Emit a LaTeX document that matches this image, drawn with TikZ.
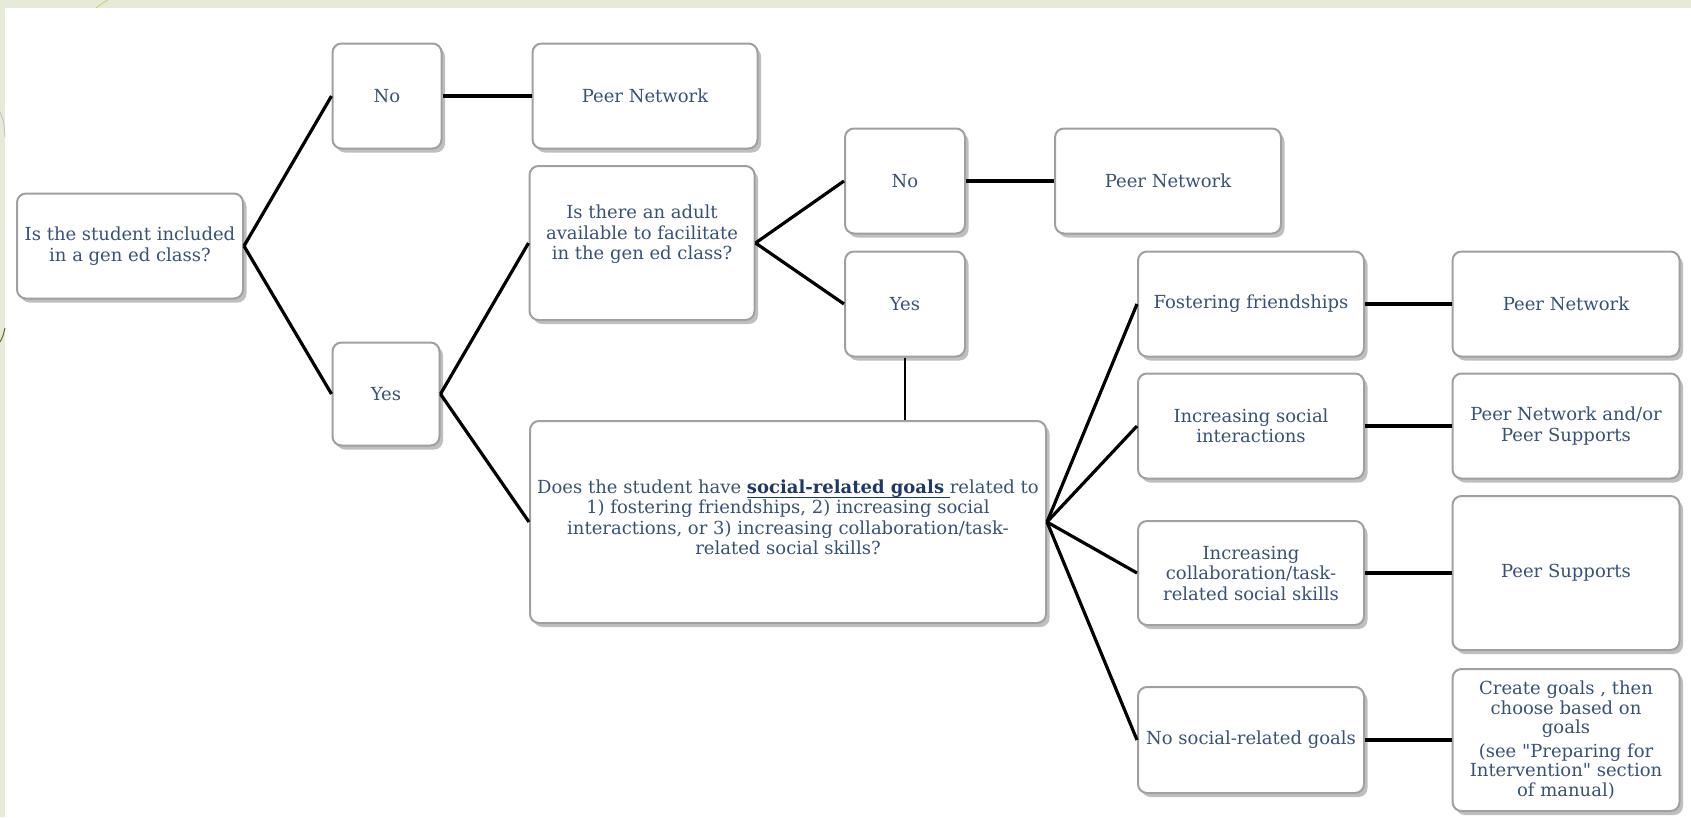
\documentclass[tikz,border=0pt]{standalone}
\usepackage{fontspec}
\setmainfont{DejaVu Serif}
\usetikzlibrary{shadows}

\definecolor{slideback}{RGB}{229,235,215}
\definecolor{cardtext}{RGB}{56,82,118}
\definecolor{cardedge}{RGB}{160,160,160}
\definecolor{goalblue}{RGB}{30,56,104}

\begin{document}
\begin{tikzpicture}[x=1pt,y=-1pt,
        card/.style={draw=cardedge, line width=2pt, fill=white,
            rounded corners=9pt,
            drop shadow={shadow xshift=3.5pt, shadow yshift=-4pt,
                fill=black!45, opacity=.55},
            text=cardtext, align=center, inner sep=2pt,
            font=\fontsize{18}{20.5}\selectfont},
        link/.style={line width=3.2pt, black}
    ]
    \useasboundingbox (0,0) rectangle (1691,817);
    % slide background
    \fill[slideback] (0,0) rectangle (1691,817);
    \fill[white] (5,8) rectangle (1691,817);
    \draw[olive!45, line width=.8pt] (96,8) .. controls (101,4) .. (108,0);
    \draw[black!25, line width=.8pt] (0,112) .. controls (4,122) .. (5,137);
    \draw[olive!70!black, line width=1pt] (0,342) .. controls (3,336) .. (5,328);

    % first question
    \node[card, minimum width=226pt, minimum height=105pt] (incl) at (130,246)
        {Is the student included\\in a gen ed class?};
    \node[card, minimum width=109pt, minimum height=105pt] (no1) at (387,96) {No};
    \node[card, minimum width=225pt, minimum height=105pt] (pn1) at (645,96) {Peer Network};
    \node[card, minimum width=107pt, minimum height=103pt] (yes1) at (386,394) {Yes};

    % adult available?
    \node[card, minimum width=225pt, minimum height=154pt, text depth=21pt] (adult) at (642,243)
        {Is there an adult\\available to facilitate\\in the gen ed class?};
    \node[card, minimum width=120pt, minimum height=105pt] (no2) at (905,181) {No};
    \node[card, minimum width=226pt, minimum height=105pt] (pn2) at (1168,181) {Peer Network};
    \node[card, minimum width=120pt, minimum height=105pt] (yes2) at (905,304) {Yes};

    % social goals
    \node[card, minimum width=516pt, minimum height=202pt, text depth=10pt] (goals) at (788,522)
        {Does the student have \textcolor{goalblue}{\underline{\smash{\textbf{social-related goals}}\rule[-2.5pt]{0pt}{0pt}\ }}related to\\
         1) fostering friendships, 2) increasing social\\
         interactions, or 3) increasing collaboration/task-\\
         related social skills?};

    \node[card, minimum width=226pt, minimum height=105pt] (ff) at (1251,304) {Fostering friendships};
    \node[card, minimum width=226pt, minimum height=105pt] (isi) at (1251,426) {Increasing social\\interactions};
    \node[card, minimum width=226pt, minimum height=104pt] (ict) at (1251,573)
        {Increasing\\collaboration/task-\\related social skills};
    \node[card, minimum width=226pt, minimum height=106pt] (nsg) at (1251,740) {No social-related goals};

    \node[card, minimum width=227pt, minimum height=105pt] (pn3) at (1566,304) {Peer Network};
    \node[card, minimum width=227pt, minimum height=105pt] (pnps) at (1566,426) {Peer Network and/or\\Peer Supports};
    \node[card, minimum width=227pt, minimum height=154pt] (ps) at (1566,573) {Peer Supports};
    \node[card, minimum width=227pt, minimum height=142pt, font=\fontsize{18}{19.5}\selectfont] (create) at (1566,740)
        {Create goals , then\\choose based on\\goals\\[4pt](see \textquotedbl Preparing for\\Intervention\textquotedbl\ section\\of manual)};

    % connectors
    \draw[link] (incl.east) -- (no1.west);
    \draw[link] (incl.east) -- (yes1.west);
    \draw[link] (no1.east) -- (pn1.west);
    \draw[link] (yes1.east) -- (adult.west);
    \draw[link] (yes1.east) -- (goals.west);
    \draw[link] (adult.east) -- (no2.west);
    \draw[link] (adult.east) -- (yes2.west);
    \draw[link] (no2.east) -- (pn2.west);
    \draw[link, line width=2.4pt] (yes2.south) -- (yes2.south |- goals.north);
    \foreach \g/\s in {ff/pn3, isi/pnps, ict/ps, nsg/create} {
        \draw[link] (goals.east) -- (\g.west);
        \draw[link] (\g.east) -- (\s.west);
    }
\end{tikzpicture}
\end{document}
